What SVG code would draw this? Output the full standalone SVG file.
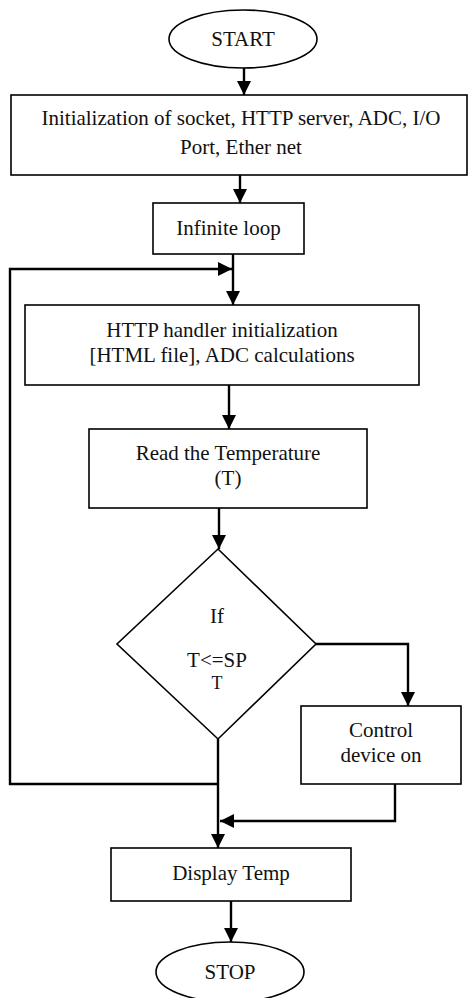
<svg xmlns="http://www.w3.org/2000/svg" width="468" height="998" viewBox="0 0 468 998">
<style>
.box{fill:#fff;stroke:#000;stroke-width:1.6}
.t{font-family:"Liberation Serif","Times New Roman",serif;font-size:21px;fill:#111;text-anchor:middle}
.c{fill:none;stroke:#000;stroke-width:2.4}
</style>
<defs>
<marker id="ah" markerUnits="userSpaceOnUse" markerWidth="14" markerHeight="14" refX="14" refY="7" orient="auto">
<path d="M0,0 L14,7 L0,14 z" fill="#000"/>
</marker>
</defs>
<rect width="468" height="998" fill="#fff"/>
<g id="connectors">
<line class="c" x1="244" y1="68" x2="244" y2="95" marker-end="url(#ah)"/>
<line class="c" x1="240" y1="175" x2="240" y2="203" marker-end="url(#ah)"/>
<line class="c" x1="233" y1="254" x2="233" y2="305" marker-end="url(#ah)"/>
<polyline class="c" points="218,784 10,784 10,269 232,269" marker-end="url(#ah)"/>
<line class="c" x1="229" y1="385" x2="229" y2="429" marker-end="url(#ah)"/>
<line class="c" x1="219" y1="508" x2="219" y2="549" marker-end="url(#ah)"/>
<polyline class="c" points="316,644 408,644 408,706" marker-end="url(#ah)"/>
<line class="c" x1="218" y1="739" x2="218" y2="848" marker-end="url(#ah)"/>
<polyline class="c" points="395,784 395,821 220,821" marker-end="url(#ah)"/>
<line class="c" x1="231" y1="901" x2="231" y2="942" marker-end="url(#ah)"/>
</g>
<g id="start">
<ellipse class="box" cx="243" cy="39" rx="74" ry="29"/>
<text class="t" x="243" y="46">START</text>
</g>
<g id="init">
<rect class="box" x="11" y="95" width="456" height="80"/>
<text class="t" x="241" y="125">Initialization of socket, HTTP server, ADC, I/O</text>
<text class="t" x="241" y="154">Port, Ether net</text>
</g>
<g id="loop">
<rect class="box" x="153" y="203" width="151" height="51"/>
<text class="t" x="228.5" y="235">Infinite loop</text>
</g>
<g id="http">
<rect class="box" x="25" y="305" width="394" height="80"/>
<text class="t" x="222" y="337">HTTP handler initialization</text>
<text class="t" x="222" y="362">[HTML file], ADC calculations</text>
</g>
<g id="read">
<rect class="box" x="89" y="429" width="278" height="79"/>
<text class="t" x="228" y="460">Read the Temperature</text>
<text class="t" x="228" y="485">(T)</text>
</g>
<g id="decision">
<polygon class="box" points="218,549 316,644 218,739 117,644"/>
<text class="t" x="217" y="623">If</text>
<text class="t" x="217" y="667">T&lt;=SP</text>
<text class="t" x="217" y="689" style="font-size:18px">T</text>
</g>
<g id="control">
<rect class="box" x="301" y="706" width="160" height="78"/>
<text class="t" x="381" y="737">Control</text>
<text class="t" x="381" y="762">device on</text>
</g>
<g id="display">
<rect class="box" x="111" y="848" width="240" height="53"/>
<text class="t" x="231" y="880">Display Temp</text>
</g>
<g id="stop">
<ellipse class="box" cx="230" cy="972" rx="74" ry="30"/>
<text class="t" x="230" y="979">STOP</text>
</g>
</svg>
